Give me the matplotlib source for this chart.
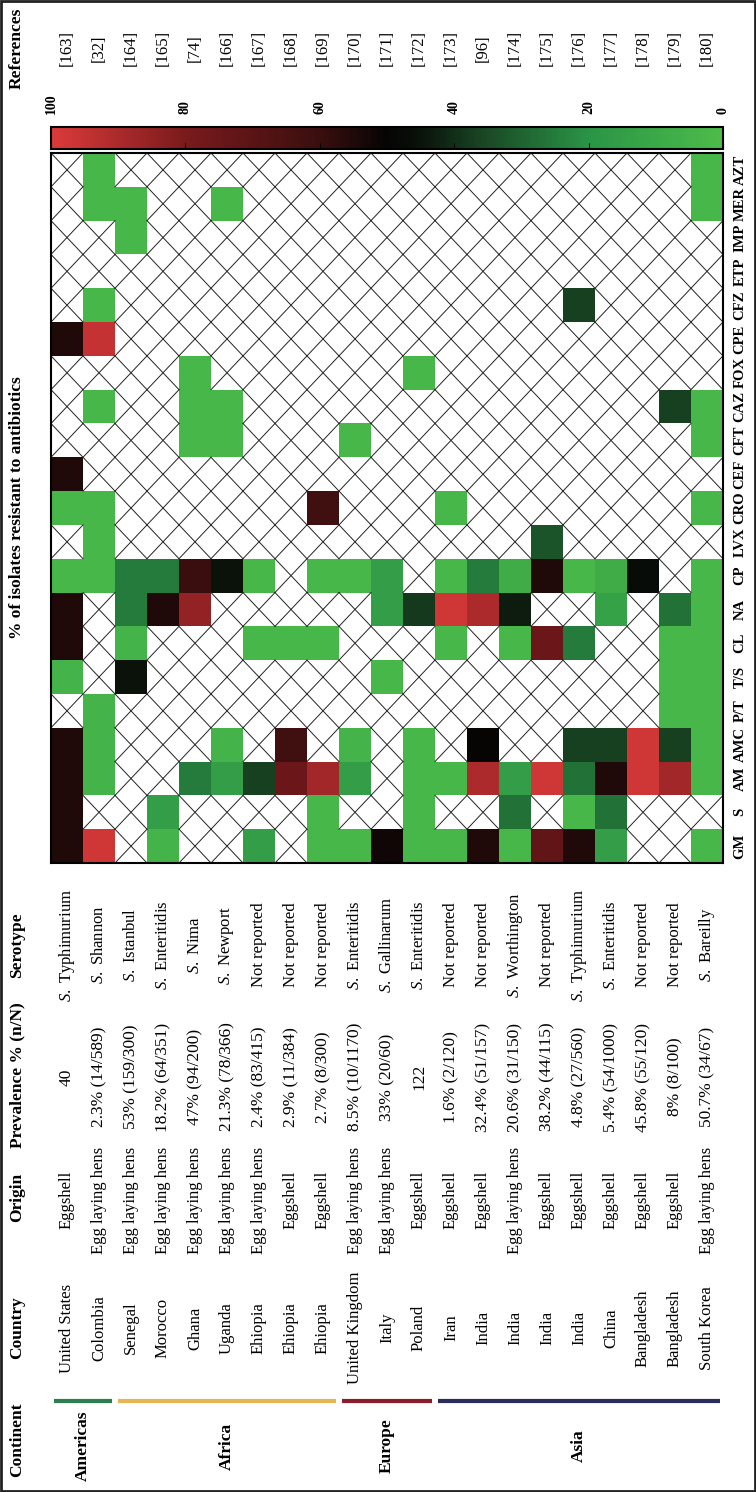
import numpy as np
import matplotlib.pyplot as plt
from matplotlib.colors import LinearSegmentedColormap
from matplotlib.patches import Rectangle

plt.rcParams['font.family'] = ['Liberation Serif', 'DejaVu Serif']
plt.rcParams['mathtext.fontset'] = 'custom'
plt.rcParams['mathtext.rm'] = 'Liberation Serif'
plt.rcParams['mathtext.it'] = 'Liberation Serif:italic'

N = np.nan

references = ["[163]", "[32]", "[164]", "[165]", "[74]", "[166]", "[167]", "[168]", "[169]",
              "[170]", "[171]", "[172]", "[173]", "[96]", "[174]", "[175]", "[176]", "[177]",
              "[178]", "[179]", "[180]"]
continents = ["Americas", "Africa", "Europe", "Asia"]
continent_sizes = [2, 7, 3, 9]
continent_colors = ["#2e7d4f", "#e6b655", "#8c1c2c", "#2b2b5c"]
countries = ["United States", "Colombia", "Senegal", "Morocco", "Ghana", "Uganda", "Ehiopia",
             "Ehiopia", "Ehiopia", "United Kingdom", "Italy", "Poland", "Iran", "India", "India",
             "India", "India", "China", "Bangladesh", "Bangladesh", "South Korea"]
origins = ["Eggshell", "Egg laying hens", "Egg laying hens", "Egg laying hens", "Egg laying hens",
           "Egg laying hens", "Egg laying hens", "Eggshell", "Eggshell", "Egg laying hens",
           "Egg laying hens", "Eggshell", "Eggshell", "Eggshell", "Egg laying hens", "Eggshell",
           "Eggshell", "Eggshell", "Eggshell", "Eggshell", "Egg laying hens"]
prevalence = ["40", "2.3% (14/589)", "53% (159/300)", "18.2% (64/351)", "47% (94/200)",
              "21.3% (78/366)", "2.4% (83/415)", "2.9% (11/384)", "2.7% (8/300)",
              "8.5% (10/1170)", "33% (20/60)", "122", "1.6% (2/120)", "32.4% (51/157)",
              "20.6% (31/150)", "38.2% (44/115)", "4.8% (27/560)", "5.4% (54/1000)",
              "45.8% (55/120)", "8% (8/100)", "50.7% (34/67)"]
serotypes = ["S. Typhimurium", "S. Shannon", "S. Istanbul", "S. Enteritidis", "S. Nima",
             "S. Newport", "Not reported", "Not reported", "Not reported", "S. Enteritidis",
             "S. Gallinarum", "S. Enteritidis", "Not reported", "Not reported", "S. Worthington",
             "Not reported", "S. Typhimurium", "S. Enteritidis", "Not reported", "Not reported",
             "S. Bareilly"]
antibiotics = ["GM", "S", "AM", "AMC", "P/T", "T/S", "CL", "NA", "CP", "LVX", "CRO", "CEF",
               "CFT", "CAZ", "FOX", "CPE", "CFZ", "ETP", "IMP", "MER", "AZT"]

# % resistant per antibiotic, one value per study (NaN = not tested)
gm = [55, 97, N, 5, N, N, 15, N, 3, 3, 52, 3, 3, 55, 3, 72, 55, 15, N, N, 3]
s = [55, N, N, 15, N, N, N, N, 3, N, N, 3, N, N, 27, N, 3, 27, N, N, N]
am = [55, 5, N, N, 25, 15, 37, 75, 88, 15, N, 3, 3, 90, 15, 97, 27, 55, 97, 88, 3]
amc = [55, 5, N, N, N, 5, N, 62, N, 5, N, 3, N, 50, N, N, 37, 37, 97, 37, 3]
pt = [N, 5, N, N, N, N, N, N, N, N, N, N, N, N, N, N, N, N, N, 3, 3]
ts = [5, N, 45, N, N, N, N, N, N, N, 3, N, N, N, N, N, N, N, N, 3, 3]
cl = [55, N, 5, N, N, N, 3, 3, 3, N, N, N, 3, N, 3, 75, 25, N, N, 3, 3]
na = [55, N, 25, 55, 85, N, N, N, N, N, 15, 38, 97, 90, 43, N, N, 13, N, 27, 3]
cp = [3, 3, 25, 25, 60, 45, 3, N, 3, 3, 15, N, 3, 25, 8, 55, 3, 8, 47, N, 3]
lvx = [N, 3, N, N, N, N, N, N, N, N, N, N, N, N, N, 33, N, N, N, N, N]
cro = [3, 3, N, N, N, N, N, N, 62, N, N, N, 3, N, N, N, N, N, N, N, 3]
cef = [55, N, N, N, N, N, N, N, N, N, N, N, N, N, N, N, N, N, N, N, N]
cft = [N, N, N, N, 3, 3, N, N, N, 3, N, N, N, N, N, N, N, N, N, N, 3]
caz = [N, 3, N, N, 3, 3, N, N, N, N, N, N, N, N, N, N, N, N, N, 37, 3]
fox = [N, N, N, N, 3, N, N, N, N, N, N, 3, N, N, N, N, N, N, N, N, N]
cpe = [55, 95, N, N, N, N, N, N, N, N, N, N, N, N, N, N, N, N, N, N, N]
cfz = [N, 3, N, N, N, N, N, N, N, N, N, N, N, N, N, N, 37, N, N, N, N]
etp = [N, N, N, N, N, N, N, N, N, N, N, N, N, N, N, N, N, N, N, N, N]
imp = [N, N, 3, N, N, N, N, N, N, N, N, N, N, N, N, N, N, N, N, N, N]
mer = [N, 3, 3, N, N, 3, N, N, N, N, N, N, N, N, N, N, N, N, N, N, 3]
azt = [N, 3, N, N, N, N, N, N, N, N, N, N, N, N, N, N, N, N, N, N, 3]

values = np.array([gm, s, am, amc, pt, ts, cl, na, cp, lvx, cro, cef, cft, caz, fox, cpe,
                   cfz, etp, imp, mer, azt], dtype=float)

W, H = 756, 1492
fig = plt.figure(figsize=(W / 100, H / 100), dpi=100)

bg = fig.add_axes([0, 0, 1, 1])
bg.set_xlim(0, W)
bg.set_ylim(H, 0)
bg.axis('off')
bg.add_patch(Rectangle((1, 1), W - 2, H - 2, fill=False, lw=2, ec='#222222'))

cmap = LinearSegmentedColormap.from_list('res', [
    (0.0, '#4cbc4a'), (0.2, '#2a9446'), (0.35, '#1a4a26'), (0.45, '#0a120a'),
    (0.5, '#060404'), (0.6, '#3a0e0e'), (0.8, '#7a1a1c'), (1.0, '#dc3a3a')])

# heatmap
hx0, hx1, hy0, hy1 = 51, 723, 153, 863
hm = fig.add_axes([hx0 / W, 1 - hy1 / H, (hx1 - hx0) / W, (hy1 - hy0) / H])
mesh = hm.pcolormesh(np.arange(22), np.arange(22), np.ma.masked_invalid(values),
                     cmap=cmap, vmin=0, vmax=100)
for j in range(values.shape[0]):
    for i in range(values.shape[1]):
        if np.isnan(values[j, i]):
            hm.plot([i, i + 1], [j, j + 1], color='#222222', lw=0.7)
            hm.plot([i, i + 1], [j + 1, j], color='#222222', lw=0.7)
hm.set_xlim(0, 21)
hm.set_ylim(0, 21)
hm.set_xticks([])
hm.set_yticks([])
for sp in hm.spines.values():
    sp.set_linewidth(1.5)

# colorbar
cax = fig.add_axes([hx0 / W, 1 - 149 / H, (hx1 - hx0) / W, 22 / H])
cb = fig.colorbar(mesh, cax=cax, orientation='horizontal', ticks=[0, 20, 40, 60, 80, 100])
cax.invert_xaxis()
cax.tick_params(axis='x', top=False, bottom=True, direction='in', length=4,
                labeltop=True, labelbottom=False, pad=9, labelsize=10)
for t in cax.get_xticklabels():
    t.set_rotation(90)
    t.set_fontweight('bold')
    t.set_va('bottom')
cb.outline.set_linewidth(1.5)

# antibiotic labels
ch = (hy1 - hy0) / 21
for k, ab in enumerate(antibiotics):
    bg.text(740, hy1 - ch * (k + 0.5), ab, rotation=90, ha='center', va='center',
            fontsize=10.5, fontweight='bold')

# study rows
def fmt(name):
    if name.startswith("S. "):
        return r"$\mathit{S.}$ " + name[3:]
    return name

cw = (hx1 - hx0) / 21
for c in range(21):
    x = hx0 + cw * (c + 0.5)
    bg.text(x, 48, references[c], rotation=90, ha='center', va='center', fontsize=12)
    bg.text(x, 945, fmt(serotypes[c]), rotation=90, ha='center', va='center', fontsize=12)
    bg.text(x, 1077, prevalence[c], rotation=90, ha='center', va='center', fontsize=12.5)
    bg.text(x, 1200, origins[c], rotation=90, ha='center', va='center', fontsize=12)
    bg.text(x, 1328, countries[c], rotation=90, ha='center', va='center', fontsize=12)

start = 0
for name, n, col in zip(continents, continent_sizes, continent_colors):
    xa = hx0 + cw * start
    xb = hx0 + cw * (start + n)
    bg.plot([xa + 3, xb - 3], [1401, 1401], color=col, lw=3, solid_capstyle='butt')
    bg.text((xa + xb) / 2, 1446, name, rotation=90, ha='center', va='center',
            fontsize=12.5, fontweight='bold')
    start += n

headers = [("References", 48), ("% of isolates resistant to antibiotics", 508),
           ("Serotype", 945), ("Prevalence % (n/N)", 1075), ("Origin", 1197),
           ("Country", 1328), ("Continent", 1440)]
for label, y in headers:
    bg.text(17, y, label, rotation=90, ha='center', va='center', fontsize=12.5,
            fontweight='bold')

fig.savefig('out.png', dpi=100)
